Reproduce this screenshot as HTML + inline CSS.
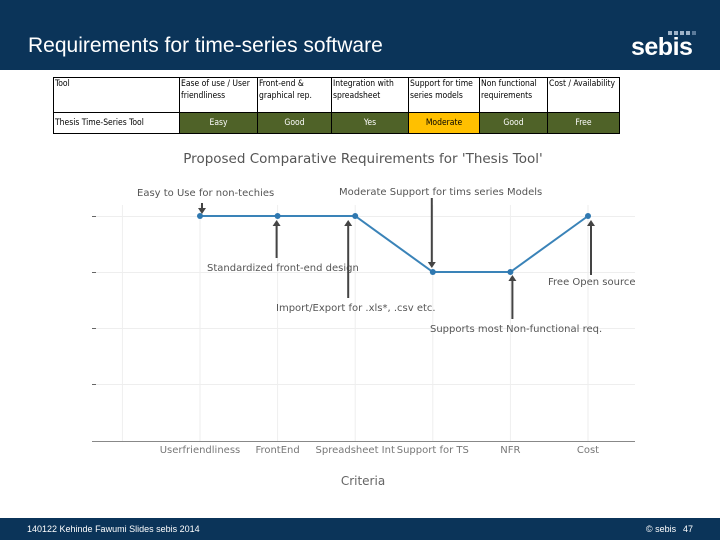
<!DOCTYPE html>
<html><head><meta charset="utf-8"><style>
body{margin:0;width:720px;height:540px;position:relative;background:#fff;font-family:"Liberation Sans",sans-serif;overflow:hidden}
#hdr{position:absolute;left:0;top:0;width:720px;height:70px;background:#0b3459}
#title{position:absolute;left:28px;top:34px;color:#fff;font-size:21px}
#logo{position:absolute;left:631px;top:33px;color:#fff;font-size:25px;font-weight:bold;letter-spacing:-0.5px}
#ftr{position:absolute;left:0;top:518px;width:720px;height:22px;background:#0b3459;color:#fff;font-size:9px}
table{position:absolute;left:53px;top:77px;width:566px;table-layout:fixed;border-collapse:collapse;font-size:8.5px;font-family:"DejaVu Sans Condensed","Liberation Sans",sans-serif}
td{border:1px solid #000;padding:0 1px;vertical-align:top;line-height:12px;overflow:hidden;white-space:normal}
.d td{height:20px;vertical-align:middle;text-align:center;background:#4f6228;color:#fff}
</style></head><body>
<div id="hdr"></div>
<div id="title">Requirements for time-series software</div>
<div id="logo">sebis</div>
<svg style="position:absolute;left:668px;top:31px" width="40" height="6"><g fill="#9fb3c8"><rect x="0" y="0" width="4" height="4"/><rect x="6" y="0" width="4" height="4"/><rect x="12" y="0" width="4" height="4"/><rect x="18" y="0" width="4" height="4"/><rect x="24" y="0" width="4" height="4" fill="#5b7a9a"/></g></svg>
<table>
<colgroup><col style="width:126px"><col style="width:78px"><col style="width:74px"><col style="width:77px"><col style="width:71px"><col style="width:68px"><col style="width:72px"></colgroup>
<tr style="height:35px"><td>Tool</td><td>Ease of use / User friendliness</td><td>Front-end &amp; graphical rep.</td><td>Integration with spreadsheet</td><td>Support for time series models</td><td>Non functional requirements</td><td>Cost / Availability</td></tr>
<tr class="d"><td style="background:#fff;color:#000;text-align:left">Thesis Time-Series Tool</td><td>Easy</td><td>Good</td><td>Yes</td><td style="background:#ffc000;color:#000">Moderate</td><td>Good</td><td>Free</td></tr>
</table>
<svg id="chart" style="position:absolute;left:0;top:0" width="720" height="540"></svg>
<div id="ftr"><span style="position:absolute;left:27px;top:6px">140122 Kehinde Fawumi Slides sebis 2014</span><span style="position:absolute;left:646px;top:6px">© sebis</span><span style="position:absolute;left:683px;top:6px">47</span></div>
<script>
const categories=["Userfriendliness","FrontEnd","Spreadsheet Int","Support for TS","NFR","Cost"];
const values=[3,3,3,2,2,3];
const yTicks=[0,1,2,3];
const NS="http://www.w3.org/2000/svg";
const svg=document.getElementById('chart');
const x=i=>200+i*77.6;
const y=v=>384-v*56;
function mk(t,a,p){const e=document.createElementNS(NS,t);for(const k in a)e.setAttribute(k,a[k]);(p||svg).appendChild(e);return e;}
const F='"DejaVu Sans","Liberation Sans",sans-serif';
let t=mk('text',{x:363,y:163,'text-anchor':'middle','font-size':13.5,fill:'#555','font-family':F});t.textContent="Proposed Comparative Requirements for 'Thesis Tool'";


for(let i=-1;i<categories.length;i++){const g=mk('line',{x1:x(i),x2:x(i),y1:205,y2:441,stroke:'#eee'});

}
yTicks.forEach(v=>{const g=mk('line',{x1:92,x2:635,y1:y(v)+0.5,y2:y(v)+0.5,stroke:'#eee'});


const k=mk('line',{x1:92,x2:96,y1:y(v)+0.5,y2:y(v)+0.5,stroke:'#666'});

});
const ax=mk('line',{x1:92,x2:635,y1:441.5,y2:441.5,stroke:'#888'});


categories.forEach((c,i)=>{const l=mk('text',{x:x(i),y:453,'text-anchor':'middle','font-size':10,fill:'#777','font-family':F});l.textContent=c;

});
const xt=mk('text',{x:363,y:485,'text-anchor':'middle','font-size':12,fill:'#666','font-family':F});xt.textContent='Criteria';


const ln=mk('polyline',{points:values.map((v,i)=>x(i)+','+y(v)).join(' '),fill:'none',stroke:'#3a83b8','stroke-width':2});


values.forEach((v,i)=>{const p=mk('circle',{cx:x(i),cy:y(v),r:3,fill:'#2f78b0'});

});
function arrow(ax,y1,y2,label,lx,ly){const g=mk('g',{});


mk('line',{x1:ax,x2:ax,y1:y1,y2:y2+(y2>y1?-5:5),stroke:'#444','stroke-width':2},g);
const d=y2>y1?1:-1;mk('polygon',{points:`${ax-4},${y2-6*d} ${ax+4},${y2-6*d} ${ax},${y2}`,fill:'#444'},g);
const tx=mk('text',{x:lx,y:ly,'font-size':10,fill:'#555','font-family':F},g);tx.textContent=label;}
arrow(x(0)+2,203,214,'Easy to Use for non-techies',137,196);
arrow(x(1)-1,258,220,'Standardized front-end design',207,271);
arrow(x(2)-7,298,220,'Import/Export for .xls*, .csv etc.',276,311);
arrow(x(3)-1,198,268,'Moderate Support for tims series Models',339,195);
arrow(x(4)+2,319,275,'Supports most Non-functional req.',430,332);
arrow(x(5)+3,275,220,'Free Open source',548,285);
</script>
</body></html>
